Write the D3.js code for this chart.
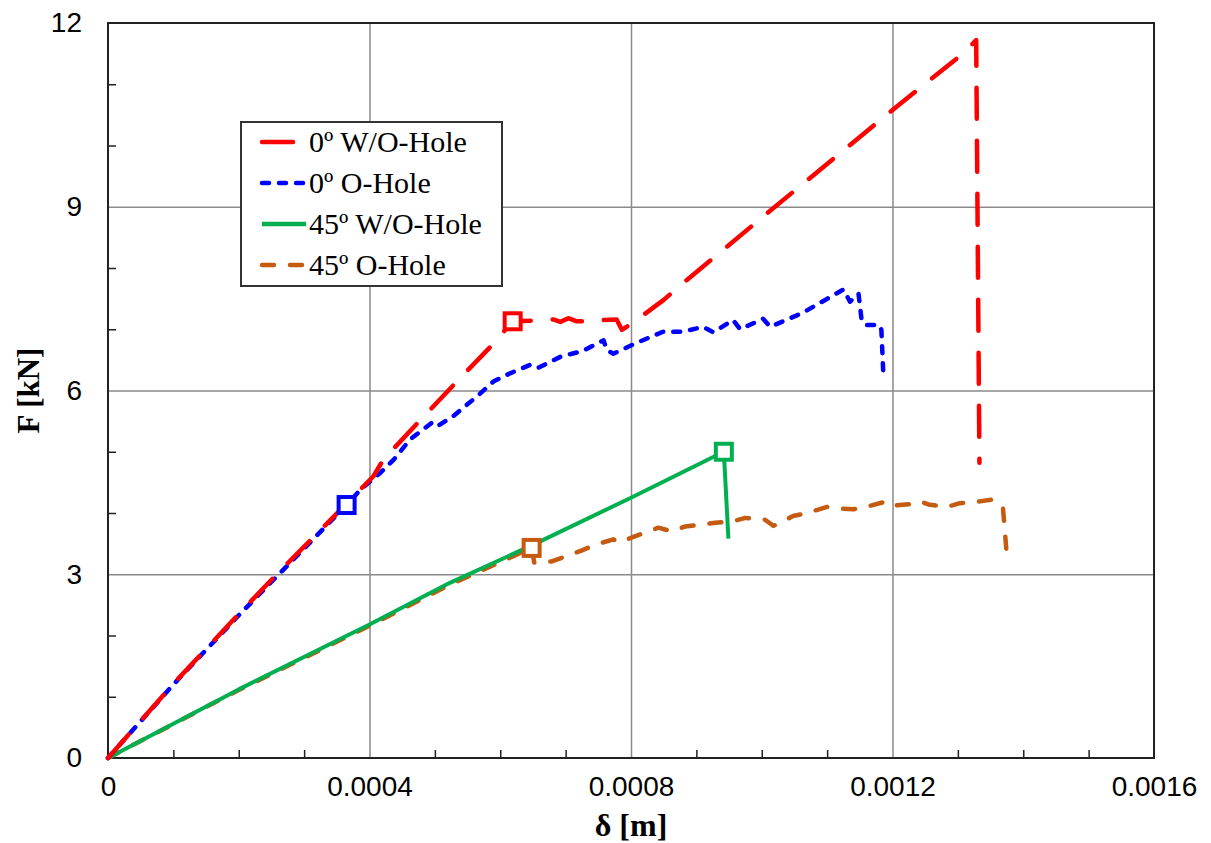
<!DOCTYPE html>
<html>
<head>
<meta charset="utf-8">
<script src="https://cdn.jsdelivr.net/npm/d3@7"></script>
<style>
    html, body { margin: 0; padding: 0; background: #fff; }
    #chart { width: 1211px; height: 843px; }
</style>
</head>
<body>
<div id="chart"></div>
<script>
const xTicks = [0, 0.0004, 0.0008, 0.0012, 0.0016];
const yTicks = [0, 3, 6, 9, 12];
const xMinorTicks = [0.0001, 0.0002, 0.0003, 0.0005, 0.0006, 0.0007, 0.0009, 0.001, 0.0011, 0.0013, 0.0014, 0.0015];
const yMinorTicks = [1, 2, 4, 5, 7, 8, 10, 11];

const seriesNames = ['0º W/O-Hole', '0º O-Hole', '45º W/O-Hole', '45º O-Hole'];

// 0º W/O-Hole
const deg0NoHoleX = [0, 0.0001, 0.0002, 0.000258, 0.0003, 0.000406, 0.000421, 0.000478, 0.000534, 0.00059, 0.000619, 0.000653, 0.000681, 0.000692, 0.000704, 0.000717, 0.000748, 0.000758, 0.000778, 0.000786, 0.000806, 0.00085, 0.000885, 0.001, 0.0012, 0.00131, 0.001328, 0.001333];
const deg0NoHoleF = [0, 1.21, 2.35, 3.0, 3.45, 4.6, 4.87, 5.52, 6.15, 6.77, 7.13, 7.14, 7.16, 7.12, 7.18, 7.13, 7.13, 7.15, 7.16, 6.99, 7.13, 7.48, 7.8, 8.82, 10.58, 11.52, 11.72, 4.82];

// 0º O-Hole
const deg0HoleX = [0, 0.0001, 0.0002, 0.0003, 0.000365, 0.000386, 0.000416, 0.000437, 0.000462, 0.000495, 0.000503, 0.000528, 0.000564, 0.00059, 0.000615, 0.000646, 0.000658, 0.000692, 0.000727, 0.000758, 0.000763, 0.000773, 0.000809, 0.000849, 0.00088, 0.00091, 0.000926, 0.000956, 0.000967, 0.001002, 0.001013, 0.001063, 0.001125, 0.001135, 0.001148, 0.001153, 0.00116, 0.00118, 0.001183, 0.001186];
const deg0HoleF = [0, 1.2, 2.33, 3.42, 4.13, 4.38, 4.65, 4.87, 5.2, 5.47, 5.41, 5.58, 5.9, 6.15, 6.28, 6.42, 6.37, 6.55, 6.65, 6.82, 6.66, 6.6, 6.78, 6.96, 6.96, 7.04, 6.95, 7.15, 7.0, 7.17, 7.04, 7.27, 7.65, 7.45, 7.58, 7.13, 7.07, 7.07, 6.99, 6.26];

// 45º W/O-Hole
const deg45NoHoleX = [0, 0.0002, 0.0004, 0.000523, 0.00065, 0.0008, 0.000942, 0.000949];
const deg45NoHoleF = [0, 1.12, 2.18, 2.86, 3.48, 4.25, 5.0, 3.58];

// 45º O-Hole
const deg45HoleX = [0, 0.0002, 0.0004, 0.000523, 0.000648, 0.000652, 0.000679, 0.000697, 0.000725, 0.000745, 0.000773, 0.000781, 0.000794, 0.000819, 0.000842, 0.000862, 0.000883, 0.000929, 0.000954, 0.000975, 0.001005, 0.001018, 0.001048, 0.001069, 0.0011, 0.00112, 0.00114, 0.00116, 0.001191, 0.001201, 0.001232, 0.001242, 0.001255, 0.001283, 0.001303, 0.001334, 0.001354, 0.001369, 0.001375];
const deg45HoleF = [0, 1.11, 2.16, 2.83, 3.43, 3.19, 3.21, 3.28, 3.39, 3.48, 3.57, 3.52, 3.57, 3.67, 3.76, 3.70, 3.78, 3.84, 3.86, 3.92, 3.89, 3.79, 3.95, 4.0, 4.1, 4.07, 4.06, 4.1, 4.19, 4.12, 4.15, 4.19, 4.14, 4.1, 4.16, 4.19, 4.22, 4.08, 3.29];

// square markers (failure points)
const markerX = [0.000619, 0.000365, 0.000942, 0.000648];
const markerF = [7.13, 4.13, 5.0, 3.43];

const COLORS = ['#ff0000', '#0000ff', '#00b050', '#c55a11'];
const DASHES = ['31,22', '7,10', null, '12,16'];

const W = 1211, H = 843;
const margin = { top: 23, right: 57, bottom: 85, left: 108 };
const width = W - margin.left - margin.right;
const height = H - margin.top - margin.bottom;

const series = [
    { xs: deg0NoHoleX, fs: deg0NoHoleF },
    { xs: deg0HoleX, fs: deg0HoleF },
    { xs: deg45NoHoleX, fs: deg45NoHoleF },
    { xs: deg45HoleX, fs: deg45HoleF }
].map((s, i) => ({
    name: seriesNames[i],
    color: COLORS[i],
    dash: DASHES[i],
    points: s.xs.map((x, j) => [x, s.fs[j]]),
    marker: [markerX[i], markerF[i]]
}));

const svg = d3.select('#chart')
    .append('svg')
    .attr('width', W)
    .attr('height', H);

const g = svg.append('g')
    .attr('transform', `translate(${margin.left},${margin.top})`);

const x = d3.scaleLinear().domain([0, 0.0016]).range([0, width]);
const y = d3.scaleLinear().domain([0, 12]).range([height, 0]);

// gridlines
g.append('g')
    .attr('class', 'grid')
    .attr('transform', `translate(0,${height})`)
    .call(d3.axisBottom(x).tickValues(xTicks.slice(1, -1)).tickSize(-height).tickFormat(''))
    .call(s => s.select('.domain').remove())
    .call(s => s.selectAll('line').attr('stroke', '#8a8a8a').attr('stroke-width', 1.5));

g.append('g')
    .attr('class', 'grid')
    .call(d3.axisLeft(y).tickValues(yTicks.slice(1, -1)).tickSize(-width).tickFormat(''))
    .call(s => s.select('.domain').remove())
    .call(s => s.selectAll('line').attr('stroke', '#8a8a8a').attr('stroke-width', 1.5));

// minor ticks (inside)
g.append('g')
    .attr('transform', `translate(0,${height})`)
    .call(d3.axisBottom(x).tickValues(xMinorTicks).tickSize(-8).tickFormat(''))
    .call(s => s.select('.domain').remove())
    .call(s => s.selectAll('line').attr('stroke', '#222').attr('stroke-width', 1.5));

g.append('g')
    .call(d3.axisLeft(y).tickValues(yMinorTicks).tickSize(-8).tickFormat(''))
    .call(s => s.select('.domain').remove())
    .call(s => s.selectAll('line').attr('stroke', '#222').attr('stroke-width', 1.5));

// tick labels
g.append('g')
    .attr('transform', `translate(0,${height})`)
    .call(d3.axisBottom(x).tickValues(xTicks).tickSize(0).tickPadding(18).tickFormat(d => String(d)))
    .call(s => s.select('.domain').remove())
    .call(s => s.selectAll('text')
        .attr('font-family', '"Liberation Sans", Arial, sans-serif')
        .attr('font-size', '28px')
        .attr('fill', '#000'));

g.append('g')
    .call(d3.axisLeft(y).tickValues(yTicks).tickSize(0).tickPadding(26))
    .call(s => s.select('.domain').remove())
    .call(s => s.selectAll('text')
        .attr('font-family', '"Liberation Sans", Arial, sans-serif')
        .attr('font-size', '28px')
        .attr('fill', '#000'));

// frame
g.append('rect')
    .attr('x', 0)
    .attr('y', 0)
    .attr('width', width)
    .attr('height', height)
    .attr('fill', 'none')
    .attr('stroke', '#222')
    .attr('stroke-width', 2);

// curves
const line = d3.line()
    .x(d => x(d[0]))
    .y(d => y(d[1]));

const order = [3, 2, 1, 0];
order.forEach(i => {
    const s = series[i];
    g.append('path')
        .datum(s.points)
        .attr('d', line)
        .attr('fill', 'none')
        .attr('stroke', s.color)
        .attr('stroke-width', i === 2 ? 4 : 4.5)
        .attr('stroke-linecap', s.dash ? 'round' : 'butt')
        .attr('stroke-linejoin', 'round')
        .attr('stroke-dasharray', s.dash);
});

g.selectAll('.marker')
    .data(series)
    .enter()
    .append('rect')
    .attr('class', 'marker')
    .attr('x', d => x(d.marker[0]) - 8)
    .attr('y', d => y(d.marker[1]) - 8)
    .attr('width', 16)
    .attr('height', 16)
    .attr('fill', '#fff')
    .attr('stroke', d => d.color)
    .attr('stroke-width', 4);

// axis titles
svg.append('text')
    .attr('transform', `translate(39,${margin.top + height / 2}) rotate(-90)`)
    .attr('text-anchor', 'middle')
    .attr('font-family', '"Liberation Serif", "Times New Roman", serif')
    .attr('font-weight', 'bold')
    .attr('font-size', '31px')
    .text('F [kN]');

svg.append('text')
    .attr('x', margin.left + width / 2)
    .attr('y', 836)
    .attr('text-anchor', 'middle')
    .attr('font-family', '"Liberation Serif", "Times New Roman", serif')
    .attr('font-weight', 'bold')
    .attr('font-size', '32px')
    .text('δ [m]');

// legend
const legend = svg.append('g')
    .attr('transform', 'translate(241,122)');

legend.append('rect')
    .attr('width', 261)
    .attr('height', 164)
    .attr('fill', '#fff')
    .attr('stroke', '#333')
    .attr('stroke-width', 2);

const item = legend.selectAll('.item')
    .data(series)
    .enter()
    .append('g')
    .attr('class', 'item')
    .attr('transform', (d, i) => `translate(0,${20 + i * 41})`);

item.append('line')
    .attr('x1', 21)
    .attr('x2', d => d.dash ? 63 : 65)
    .attr('y1', 0)
    .attr('y2', 0)
    .attr('stroke', d => d.color)
    .attr('stroke-width', 4.5)
    .attr('stroke-linecap', d => d.dash ? 'round' : 'butt')
    .attr('stroke-dasharray', d => d.dash);

item.append('text')
    .attr('x', 68)
    .attr('y', 10)
    .attr('font-family', '"Liberation Serif", "Times New Roman", serif')
    .attr('font-size', '30px')
    .attr('fill', '#000')
    .text(d => d.name);
</script>
</body>
</html>
